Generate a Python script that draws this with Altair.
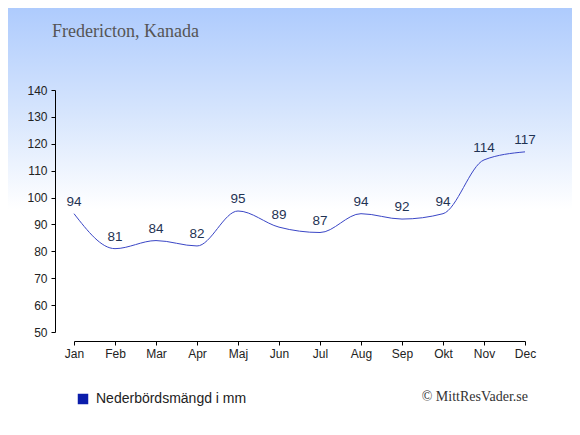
import altair as alt
import pandas as pd

months = ["Jan", "Feb", "Mar", "Apr", "Maj", "Jun", "Jul", "Aug", "Sep", "Okt", "Nov", "Dec"]
precip = [94, 81, 84, 82, 95, 89, 87, 94, 92, 94, 114, 117]
series_name = "Nederbördsmängd i mm"
y_ticks = list(range(50, 141, 10))
title_text = "Fredericton, Kanada"
credit_text = "© MittResVader.se"

df = pd.DataFrame({"month": months, "value": precip, "series": [series_name] * len(months)})

W, H = 451, 242
PAD_L, PAD_T, PAD_R, PAD_B = 66, 82, 47, 95

bg = alt.Chart(pd.DataFrame({"d": [0]})).mark_rect(
    color=alt.Gradient(
        gradient="linear",
        x1=0, y1=0, x2=0, y2=1,
        stops=[
            alt.GradientStop(offset=0, color="#aecbfd"),
            alt.GradientStop(offset=0.25, color="#d6e5fd"),
            alt.GradientStop(offset=0.48, color="#ffffff"),
            alt.GradientStop(offset=1, color="#ffffff"),
        ],
    )
).encode(
    x=alt.value(-PAD_L), x2=alt.value(W + PAD_R),
    y=alt.value(-PAD_T), y2=alt.value(H + PAD_B),
)

x_enc = alt.X(
    "month:N", sort=months,
    scale=alt.Scale(type="point", padding=0),
    axis=alt.Axis(title=None, labelAngle=0, offset=9, tickSize=4, labelPadding=3, zindex=1),
)
y_enc = alt.Y(
    "value:Q",
    scale=alt.Scale(domain=[50, 140], nice=False, zero=False),
    axis=alt.Axis(title=None, values=y_ticks, offset=19, tickSize=4, grid=False,
                  labelPadding=4, zindex=1),
)

line = alt.Chart(df).mark_line(interpolate="monotone", strokeWidth=1).encode(
    x=x_enc, y=y_enc,
    color=alt.Color(
        "series:N",
        scale=alt.Scale(range=["#3a46c6"]),
        legend=alt.Legend(
            title=None, orient="none", legendX=2, legendY=302,
            symbolType="square", symbolFillColor="#0b1dab", symbolStrokeColor="#0b1dab",
            symbolSize=110, symbolStrokeWidth=0,
            labelFont="Liberation Sans", labelFontSize=14, labelColor="#222222",
            labelOffset=6,
        ),
    ),
)

labels = alt.Chart(df).mark_text(
    dy=-5, baseline="bottom", font="Liberation Sans", fontSize=13.5, color="#1f3354"
).encode(x=x_enc, y=y_enc, text="value:Q")

title_mark = alt.Chart(pd.DataFrame({"t": [title_text]})).mark_text(
    align="left", baseline="middle", font="Liberation Serif", fontSize=18, color="#555555"
).encode(x=alt.value(-22), y=alt.value(-58), text="t:N")

copyright_txt = alt.Chart(pd.DataFrame({"t": [credit_text]})).mark_text(
    align="right", baseline="middle", font="Liberation Serif", fontSize=14, color="#333333"
).encode(x=alt.value(454), y=alt.value(307), text="t:N")

chart = alt.layer(bg, line, labels, title_mark, copyright_txt).properties(
    width=W, height=H,
    autosize=alt.AutoSizeParams(type="none"),
    padding={"left": PAD_L, "top": PAD_T, "right": PAD_R, "bottom": PAD_B},
).configure_view(stroke=None).configure_axis(
    domainColor="#000000", tickColor="#000000", labelColor="#222222",
    labelFont="Liberation Sans", labelFontSize=12,
)

chart.save("out.html", embed_options={"renderer": "svg", "actions": False})
